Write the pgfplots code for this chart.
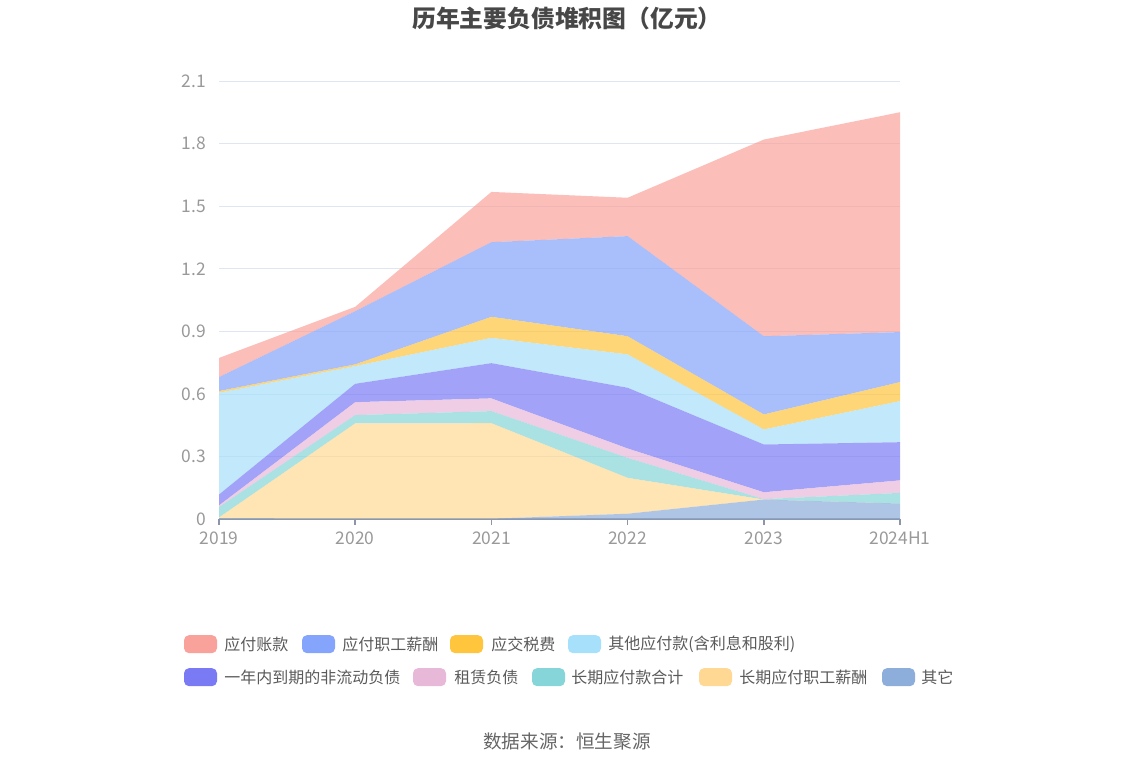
\documentclass[border=0pt]{standalone}
\usepackage{pgfplots}
\pgfplotsset{compat=1.18}
\usepackage{fontspec}
\setmainfont{Noto Sans CJK SC}
\definecolor{c1}{HTML}{F9A29B}
\definecolor{c2}{HTML}{85A4FB}
\definecolor{c3}{HTML}{FFC53D}
\definecolor{c4}{HTML}{A6E0FA}
\definecolor{c5}{HTML}{7A7AF5}
\definecolor{c6}{HTML}{E8B8D9}
\definecolor{c7}{HTML}{86D6D9}
\definecolor{c8}{HTML}{FFD894}
\definecolor{c9}{HTML}{8DADDB}
\definecolor{gridc}{HTML}{E0E6F1}
\definecolor{axc}{HTML}{8C96A8}
\definecolor{tickc}{HTML}{999999}
\definecolor{legc}{HTML}{5A5A5A}
\begin{document}
\begin{tikzpicture}[x=1pt,y=1pt]
\path (0,0) rectangle (567,383);
\begin{axis}[at={(109.5pt,124pt)}, anchor=south west, scale only axis,
  width=340.5pt, height=219pt,
  xmin=0, xmax=5, ymin=0, ymax=2.1,
  xtick={0,1,2,3,4,5}, xticklabels={2019,2020,2021,2022,2023,2024H1},
  ytick={0,0.3,0.6,0.9,1.2,1.5,1.8,2.1},
  yticklabels={0,0.3,0.6,0.9,1.2,1.5,1.8,2.1},
  axis x line=bottom, axis y line=left,
  x axis line style={-, draw=axc, line width=0.8pt},
  y axis line style={draw=none},
  ytick style={draw=none},
  xtick style={draw=axc, line width=0.8pt},
  tick align=outside, major tick length=3pt,
  ymajorgrids, grid style={draw=gridc, line width=0.5pt},
  tick label style={font=\fontsize{8.7}{10}\selectfont, text=tickc},
  /pgf/number format/assume math mode=true,
  yticklabel style={xshift=0pt},
  xticklabel style={yshift=0pt},
  stack plots=y,
  clip=false,
]
% 其它
\addplot[fill=c9, fill opacity=0.7, draw=none] coordinates {(0,0.004) (1,0.002) (2,0.002) (3,0.026) (4,0.094) (5,0.075)} \closedcycle;
% 长期应付职工薪酬
\addplot[fill=c8, fill opacity=0.7, draw=none] coordinates {(0,0.004) (1,0.457) (2,0.458) (3,0.172) (4,0.0) (5,0.0)} \closedcycle;
% 长期应付款合计
\addplot[fill=c7, fill opacity=0.7, draw=none] coordinates {(0,0.050) (1,0.040) (2,0.058) (3,0.096) (4,0.002) (5,0.051)} \closedcycle;
% 租赁负债
\addplot[fill=c6, fill opacity=0.7, draw=none] coordinates {(0,0.008) (1,0.062) (2,0.061) (3,0.045) (4,0.033) (5,0.060)} \closedcycle;
% 一年内到期的非流动负债
\addplot[fill=c5, fill opacity=0.7, draw=none] coordinates {(0,0.052) (1,0.088) (2,0.169) (3,0.291) (4,0.229) (5,0.183)} \closedcycle;
% 其他应付款
\addplot[fill=c4, fill opacity=0.7, draw=none] coordinates {(0,0.488) (1,0.085) (2,0.121) (3,0.160) (4,0.072) (5,0.197)} \closedcycle;
% 应交税费
\addplot[fill=c3, fill opacity=0.7, draw=none] coordinates {(0,0.008) (1,0.008) (2,0.101) (3,0.087) (4,0.072) (5,0.091)} \closedcycle;
% 应付职工薪酬
\addplot[fill=c2, fill opacity=0.7, draw=none] coordinates {(0,0.067) (1,0.255) (2,0.358) (3,0.480) (4,0.375) (5,0.240)} \closedcycle;
% 应付账款
\addplot[fill=c1, fill opacity=0.7, draw=none] coordinates {(0,0.092) (1,0.021) (2,0.241) (3,0.184) (4,0.943) (5,1.054)} \closedcycle;
\end{axis}
% title
\node[font=\fontsize{11.9}{13}\selectfont\bfseries, text=black!72] at (283.5,374.5) {历年主要负债堆积图（亿元）};
% legend
\tikzset{sw/.style={rounded corners=2.5pt}, lt/.style={anchor=west, inner sep=0pt, font=\fontsize{8}{9}\selectfont, text=legc}}
\fill[c1, sw] (92,57) rectangle ++(16.5,9);  \node[lt] at (112,61.5) {应付账款};
\fill[c2, sw] (151,57) rectangle ++(16.5,9); \node[lt] at (171,61.5) {应付职工薪酬};
\fill[c3, sw] (225,57) rectangle ++(16.5,9); \node[lt] at (245.5,61.5) {应交税费};
\fill[c4, sw] (284,57) rectangle ++(16.5,9); \node[lt] at (304,61.5) {其他应付款(含利息和股利)};
\fill[c5, sw] (92,40.5) rectangle ++(16.5,9);  \node[lt] at (112,45) {一年内到期的非流动负债};
\fill[c6, sw] (206.5,40.5) rectangle ++(16.5,9); \node[lt] at (227,45) {租赁负债};
\fill[c7, sw] (266,40.5) rectangle ++(16.5,9); \node[lt] at (285.5,45) {长期应付款合计};
\fill[c8, sw] (349.5,40.5) rectangle ++(16.5,9); \node[lt] at (369.5,45) {长期应付职工薪酬};
\fill[c9, sw] (441,40.5) rectangle ++(16.5,9); \node[lt] at (460.5,45) {其它};
% source
\node[font=\fontsize{9.3}{10}\selectfont, text=black!60] at (283.5,13) {数据来源：恒生聚源};
\end{tikzpicture}
\end{document}
